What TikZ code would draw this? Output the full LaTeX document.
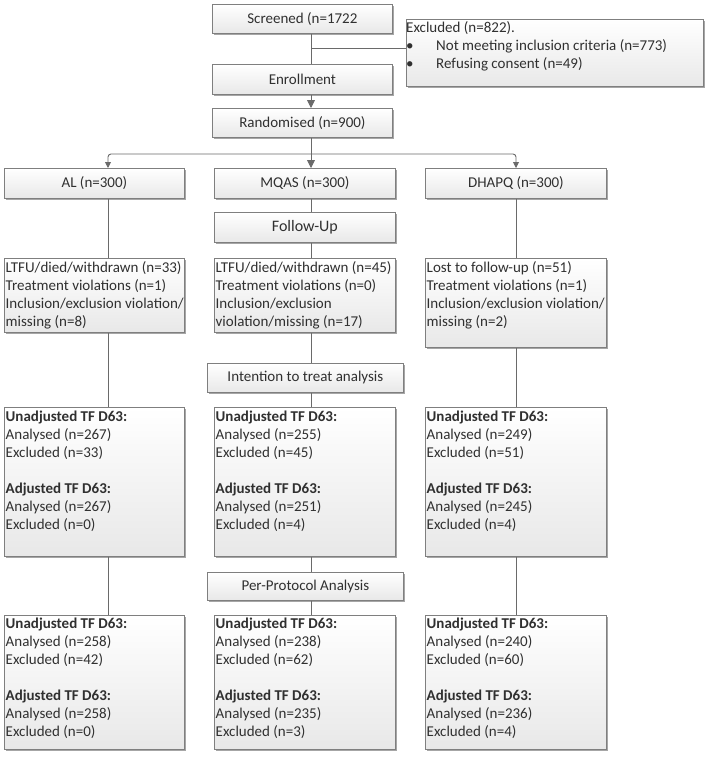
\documentclass[tikz,border=0pt]{standalone}
\usepackage{fontspec}
\setmainfont{Carlito}
\usetikzlibrary{shadows,arrows.meta}
\definecolor{bordergray}{HTML}{7F7F7F}
\definecolor{linegray}{HTML}{6A6A6A}
\definecolor{txtgray}{HTML}{303030}
\definecolor{fillbottom}{HTML}{E8E8E8}
\newcommand{\rowsL}[1]{\begin{tabular}[t]{@{}l@{}}#1\end{tabular}}
\begin{document}
\begin{tikzpicture}[x=1pt,y=-1pt,
  font=\fontsize{15}{18}\selectfont,
  every node/.style={text=txtgray},
  box/.style={draw=bordergray, line width=0.8pt, top color=white, bottom color=fillbottom,
    drop shadow={shadow xshift=1.6pt, shadow yshift=-1.6pt, fill=black, opacity=0.35},
    anchor=north west, inner sep=0pt},
  txt/.style={anchor=base west, inner sep=0pt},
  conn/.style={draw=linegray, line width=0.9pt},
  bigtip/.style={-{Triangle[length=8pt,width=8pt]}},
  smalltip/.style={-{Triangle[length=6pt,width=6pt]}},
]
\useasboundingbox (0,0) rectangle (709,758);

% column lines
\coordinate (cL) at (108,0);
\coordinate (cM) at (311,0);
\coordinate (cR) at (516,0);
\coordinate (exj) at (311,48);
\coordinate (brL) at (108,154);
\coordinate (brR) at (516,154);

% top boxes
\node[box, minimum width=180pt, minimum height=29pt] (scr) at (212,4) {Screened (n=1722};
\node[box, minimum width=297pt, minimum height=67pt] (excl) at (406,19) {};
\node[txt] (excltxt) at (406,32) {\begin{tabular}[t]{@{}p{30pt}@{}l@{}}
\multicolumn{2}{@{}l@{}}{Excluded (n=822).}\\
\textbullet & Not meeting inclusion criteria (n=773)\\
\textbullet & Refusing consent (n=49)
\end{tabular}};
\node[box, minimum width=180pt, minimum height=30pt] (enr) at (212,64) {Enrollment};
\node[box, minimum width=180pt, minimum height=29pt] (rand) at (212,108) {Randomised (n=900)};

% arms
\node[box, minimum width=180pt, minimum height=30pt] (al) at (4,168) {AL (n=300)};
\node[box, minimum width=181pt, minimum height=30pt] (mq) at (214,168) {MQAS (n=300)};
\node[box, minimum width=181pt, minimum height=30pt] (dh) at (425,168) {DHAPQ (n=300)};
\node[box, minimum width=181pt, minimum height=30pt, font=\fontsize{16}{18}\selectfont] (fu) at (214,212) {Follow-Up};

% follow-up results
\node[box, minimum width=180pt, minimum height=74pt] (lal) at (4,258) {};
\node[box, minimum width=181pt, minimum height=74pt] (lmq) at (214,258) {};
\node[box, minimum width=181pt, minimum height=89pt] (ldh) at (425,258) {};
\node[txt] (lalt) at (5.5,272) {\rowsL{LTFU/died/withdrawn (n=33)\\Treatment violations (n=1)\\Inclusion/exclusion violation/\\missing (n=8)}};
\node[txt] (lmqt) at (215.5,272) {\rowsL{LTFU/died/withdrawn (n=45)\\Treatment violations (n=0)\\Inclusion/exclusion\\violation/missing (n=17)}};
\node[txt] (ldht) at (426.5,272) {\rowsL{Lost to follow-up (n=51)\\Treatment violations (n=1)\\Inclusion/exclusion violation/\\missing (n=2)}};

% ITT
\node[box, minimum width=196pt, minimum height=29pt] (itt) at (207,363) {Intention to treat analysis};
\node[box, minimum width=180pt, minimum height=149pt] (ual) at (4,407) {};
\node[box, minimum width=181pt, minimum height=149pt] (umq) at (214,407) {};
\node[box, minimum width=181pt, minimum height=149pt] (udh) at (425,407) {};
\node[txt] (ualt) at (5.5,421) {\rowsL{\textbf{Unadjusted TF D63:}\\Analysed (n=267)\\Excluded (n=33)\\ \\\textbf{Adjusted TF D63:}\\Analysed (n=267)\\Excluded (n=0)}};
\node[txt] (umqt) at (215.5,421) {\rowsL{\textbf{Unadjusted TF D63:}\\Analysed (n=255)\\Excluded (n=45)\\ \\\textbf{Adjusted TF D63:}\\Analysed (n=251)\\Excluded (n=4)}};
\node[txt] (udht) at (426.5,421) {\rowsL{\textbf{Unadjusted TF D63:}\\Analysed (n=249)\\Excluded (n=51)\\ \\\textbf{Adjusted TF D63:}\\Analysed (n=245)\\Excluded (n=4)}};

% PP
\node[box, minimum width=196pt, minimum height=28pt] (pp) at (207,572) {Per-Protocol Analysis};
\node[box, minimum width=180pt, minimum height=134pt] (bal) at (4,615) {};
\node[box, minimum width=181pt, minimum height=134pt] (bmq) at (214,615) {};
\node[box, minimum width=181pt, minimum height=134pt] (bdh) at (425,615) {};
\node[txt] (balt) at (5.5,628.5) {\rowsL{\textbf{Unadjusted TF D63:}\\Analysed (n=258)\\Excluded (n=42)\\ \\\textbf{Adjusted TF D63:}\\Analysed (n=258)\\Excluded (n=0)}};
\node[txt] (bmqt) at (215.5,628.5) {\rowsL{\textbf{Unadjusted TF D63:}\\Analysed (n=238)\\Excluded (n=62)\\ \\\textbf{Adjusted TF D63:}\\Analysed (n=235)\\Excluded (n=3)}};
\node[txt] (bdht) at (426.5,628.5) {\rowsL{\textbf{Unadjusted TF D63:}\\Analysed (n=240)\\Excluded (n=60)\\ \\\textbf{Adjusted TF D63:}\\Analysed (n=236)\\Excluded (n=4)}};

% connectors
\draw[conn] (scr.south -| cM) -- (enr.north -| cM);
\draw[conn] (exj) -- (excl.west |- exj);
\draw[conn, bigtip] (enr.south -| cM) -- (rand.north -| cM);
\draw[conn, bigtip] (rand.south -| cM) -- (mq.north -| cM);
\draw[conn, smalltip, rounded corners=3pt] (brR -| cM) -- (brL) -- (al.north -| cL);
\draw[conn, smalltip, rounded corners=3pt] (brL -| cM) -- (brR) -- (dh.north -| cR);

\draw[conn] (al.south -| cL) -- (lal.north -| cL);
\draw[conn] (lal.south -| cL) -- (ual.north -| cL);
\draw[conn] (ual.south -| cL) -- (bal.north -| cL);

\draw[conn] (mq.south -| cM) -- (fu.north -| cM);
\draw[conn] (fu.south -| cM) -- (lmq.north -| cM);
\draw[conn] (lmq.south -| cM) -- (itt.north -| cM);
\draw[conn] (itt.south -| cM) -- (umq.north -| cM);
\draw[conn] (umq.south -| cM) -- (pp.north -| cM);
\draw[conn] (pp.south -| cM) -- (bmq.north -| cM);

\draw[conn] (dh.south -| cR) -- (ldh.north -| cR);
\draw[conn] (ldh.south -| cR) -- (udh.north -| cR);
\draw[conn] (udh.south -| cR) -- (bdh.north -| cR);
\end{tikzpicture}
\end{document}
